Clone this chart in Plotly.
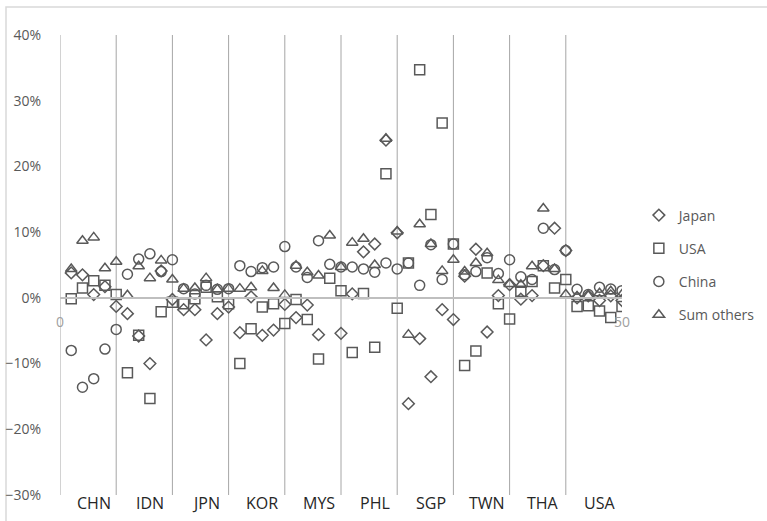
import plotly.graph_objects as go

countries = ["CHN", "IDN", "JPN", "KOR", "MYS", "PHL", "SGP", "TWN", "THA", "USA"]
points_per_country = 5

japan = [3.8, 3.5, 0.5, 1.7, -1.3,
         -2.4, -5.8, -10.0, 4.1, -0.25,
         -1.8, -1.8, -6.4, -2.4, -1.4,
         -5.3, 0.15, -5.7, -4.9, -1.0,
         -3.0, -1.1, -5.6, None, -5.4,
         0.6, 7.0, 8.2, 24.0, 9.9,
         -16.1, -6.2, -12.0, -1.8, -3.3,
         3.3, 7.4, -5.2, 0.35, 2.0,
         -0.2, 0.35, 4.9, 10.6, 7.2,
         0.0, 0.3, -0.4, 0.3, -0.4]
usa = [-0.15, 1.5, 2.6, 1.9, 0.5,
       -11.4, -5.7, -15.3, -2.1, -0.65,
       -0.9, -0.15, 1.6, 0.15, -0.9,
       -10.0, -4.7, -1.4, -0.9, -3.9,
       -0.25, -3.3, -9.3, 3.0, 1.1,
       -8.3, 0.65, -7.5, 18.9, -1.6,
       5.3, 34.7, 12.7, 26.6, 8.2,
       -10.3, -8.1, 3.8, -0.9, -3.2,
       1.0, 2.5, 4.9, 1.5, 2.8,
       -1.3, -1.2, -2.0, -3.0, -1.3]
china = [-8.0, -13.6, -12.3, -7.8, -4.8,
         3.6, 5.9, 6.7, 4.0, 5.8,
         1.4, 0.6, 1.9, 1.3, 1.4,
         4.9, 4.0, 4.6, 4.7, 7.8,
         4.7, 3.1, 8.7, 5.1, 4.7,
         4.7, 4.4, 3.9, 5.3, 4.4,
         5.3, 1.9, 8.1, 2.8, 8.2,
         3.5, 4.0, 6.1, 3.7, 5.8,
         3.2, 2.8, 10.6, 4.3, 7.2,
         1.3, 0.5, 1.6, 1.35, 1.1]
sum_others = [4.4, 8.7, 9.2, 4.5, 5.5,
              0.4, 4.8, 3.0, 5.7, 2.8,
              1.4, 1.5, 3.0, 1.3, 1.4,
              1.4, 1.6, 4.1, 1.5, 0.45,
              4.9, 3.9, 3.4, 9.5, 4.7,
              8.4, 9.0, 5.0, 24.2, 10.1,
              -5.6, 11.2, 8.2, 4.1, 5.8,
              4.0, 5.3, 6.8, 2.7, 2.1,
              2.0, 4.8, 13.6, 4.4, 0.5,
              0.2, 0.3, 0.7, 1.0, 0.5]

series = [("Japan", japan, "diamond-open", 9),
          ("USA", usa, "square-open", 10),
          ("China", china, "circle-open", 10),
          ("Sum others", sum_others, "triangle-up-open", 10)]

x_idx = list(range(1, len(countries) * points_per_country + 1))
y_min, y_max = -30, 40
mark_color = "#595959"

fig = go.Figure()

# group separator lines
sep_x, sep_y = [], []
for k in range(len(countries)):
    b = k * points_per_country
    sep_x += [b, b, None]
    sep_y += [y_min, y_max, None]
fig.add_trace(go.Scatter(x=sep_x, y=sep_y, mode="lines",
                         line=dict(color="#a6a6a6", width=1),
                         showlegend=False, hoverinfo="skip"))

for name, vals, sym, sz in series:
    fig.add_trace(go.Scatter(
        x=x_idx, y=vals, mode="markers", name=name, legendgroup=name,
        marker=dict(symbol=sym, size=sz, color=mark_color,
                    line=dict(color=mark_color, width=1.5)),
    ))

for k, c in enumerate(countries):
    fig.add_annotation(x=k * points_per_country + 3, y=y_min, xref="x", yref="y",
                       text=c, showarrow=False, yanchor="middle", yshift=-8,
                       font=dict(size=16, color="#262626", family="Open Sans"))

# outer chart border (only top and left edges fall inside the image)
fig.add_shape(type="rect", xref="paper", yref="paper",
              x0=(6 - 60) / 562, x1=(790 - 60) / 562,
              y0=(495 - 540) / 460, y1=(495 - 7) / 460,
              line=dict(color="#d9d9d9", width=1.5), layer="below")

fig.update_layout(
    width=767, height=521,
    margin=dict(l=60, r=145, t=35, b=26, autoexpand=False),
    paper_bgcolor="white", plot_bgcolor="white",
    font=dict(family="Open Sans", size=13, color="#595959"),
    legend=dict(x=1.03, xanchor="left", y=0.5, yanchor="middle",
                font=dict(size=14, color="#595959"),
                tracegroupgap=12, itemwidth=30),
    xaxis=dict(range=[0, 50], tickvals=[0, 50], showgrid=False, zeroline=False,
               showline=True, linecolor="#bfbfbf", linewidth=1.5,
               anchor="free", position=(0 - y_min) / (y_max - y_min),
               ticks="", ticklabelstandoff=12, automargin=False,
               tickfont=dict(size=14, color="#a0a0a0")),
    yaxis=dict(range=[y_min, y_max], dtick=10, ticksuffix="%", showgrid=False,
               zeroline=False, showline=False, ticks="", ticklabelstandoff=18,
               automargin=False,
               tickfont=dict(size=14, color="#595959")),
)

fig.write_html("out.html")
